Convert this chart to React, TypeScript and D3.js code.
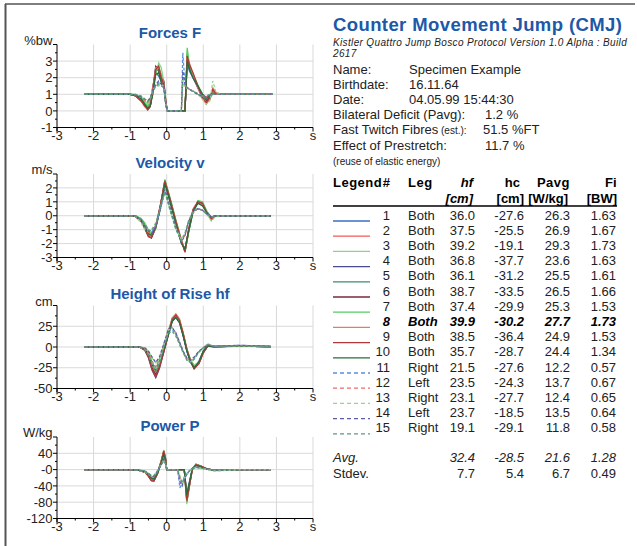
import * as d3 from "d3";

// ---- trial table ----
const trialNumbers = [1, 2, 3, 4, 5, 6, 7, 8, 9, 10, 11, 12, 13, 14, 15];
const trialLegs = ["Both", "Both", "Both", "Both", "Both", "Both", "Both", "Both", "Both", "Both", "Right", "Left", "Right", "Left", "Right"];
const trialHf = [36.0, 37.5, 39.2, 36.8, 36.1, 38.7, 37.4, 39.9, 38.5, 35.7, 21.5, 23.5, 23.1, 23.7, 19.1];
const trialHc = [-27.6, -25.5, -19.1, -37.7, -31.2, -33.5, -29.9, -30.2, -36.4, -28.7, -27.6, -24.3, -27.7, -18.5, -29.1];
const trialPavg = [26.3, 26.9, 29.3, 23.6, 25.5, 26.5, 25.3, 27.7, 24.9, 24.4, 12.2, 13.7, 12.4, 13.5, 11.8];
const trialFi = [1.63, 1.67, 1.73, 1.63, 1.61, 1.66, 1.53, 1.73, 1.53, 1.34, 0.57, 0.67, 0.65, 0.64, 0.58];
const avgRow = ["32.4", "-28.5", "21.6", "1.28"];
const stdevRow = ["7.7", "5.4", "6.7", "0.49"];

const trialColors = [
  "#3b6cc8", "#f05858", "#86d886", "#4b4b90", "#3d8c6c",
  "#7a2a3a", "#55cc60", "#d88070", "#b03838", "#2a6a3c",
  "#5a8ee0", "#f06a6a", "#90d890", "#5c5ca4", "#5a9c7c",
];

// ---- header info ----
const infoLabels = ["Name:", "Birthdate:", "Date:", "Bilateral Deficit (Pavg):", "Fast Twitch Fibres", "Effect of Prestretch:"];
const infoValues = ["Specimen Example", "16.11.64", "04.05.99 15:44:30", "1.2 %", "51.5 %FT", "11.7 %"];

// ---- Forces F (%bw) ----
const forceTimes = [-2.25, -1.6, -1.0, -0.85, -0.7, -0.6, -0.52, -0.45, -0.38, -0.3, -0.22, -0.15, -0.08, -0.02, 0.02, 0.4, 0.44, 0.5, 0.56, 0.62, 0.72, 0.85, 0.98, 1.08, 1.18, 1.26, 1.35, 1.5, 2.2, 2.9];
const forceValues = [
  [1, 1, 1, 0.95, 0.7, 0.4, 0.2, 0.5, 1.5, 2.3, 2.1, 1.8, 1.6, 0.3, 0, 0, 0, 0, 3.0, 2.4, 2.0, 1.5, 1.0, 0.8, 0.9, 1.1, 1.0, 1, 1, 1],
  [1, 1.02, 1, 0.9, 0.6, 0.3, 0.15, 0.4, 1.3, 2.5, 2.6, 2.0, 1.7, 0.4, 0, 0, 0, 0, 2.8, 2.6, 2.1, 1.4, 0.7, 0.5, 0.8, 1.3, 1.05, 1, 1, 1],
  [1, 1, 1.02, 1.0, 0.85, 0.6, 0.4, 0.7, 1.4, 2.2, 2.9, 2.6, 1.8, 0.5, 0, 0, 0, 0, 3.6, 2.7, 2.2, 1.6, 1.0, 0.6, 0.7, 1.1, 1.0, 1, 1, 1],
  [1, 1, 1, 0.95, 0.7, 0.35, 0.1, 0.3, 1.2, 2.6, 2.4, 1.9, 1.7, 0.4, 0, 0, 0, 0, 3.3, 2.6, 2.0, 1.4, 0.9, 0.7, 0.9, 1.0, 1, 1, 1, 1],
  [1, 1, 1, 0.95, 0.75, 0.45, 0.2, 0.35, 1.1, 2.4, 2.5, 1.8, 1.5, 0.3, 0, 0, 0, 0, 3.1, 2.5, 2.0, 1.5, 0.9, 0.7, 0.8, 1.1, 1.0, 1, 1, 1],
  [1, 1, 1, 0.9, 0.65, 0.3, 0.05, 0.25, 1.3, 2.7, 2.5, 2.0, 1.8, 0.5, 0, 0, 0, 0, 3.4, 2.7, 2.1, 1.5, 0.9, 0.6, 0.8, 1.2, 1.0, 1, 1, 1],
  [1, 1, 1, 0.95, 0.8, 0.5, 0.3, 0.5, 1.2, 2.3, 2.7, 2.2, 1.6, 0.4, 0, 0, 0, 0, 3.8, 2.8, 2.1, 1.5, 0.9, 0.5, 0.7, 1.2, 1.0, 1, 1, 1],
  [1, 1, 1, 0.9, 0.6, 0.25, 0.1, 0.4, 1.4, 2.6, 2.6, 2.1, 1.7, 0.5, 0, 0, 0, 0, 3.2, 2.9, 2.2, 1.4, 0.8, 0.4, 0.7, 1.4, 1.1, 1, 1, 1],
  [1, 1, 1, 0.9, 0.6, 0.3, 0.1, 0.3, 1.2, 2.5, 2.7, 2.0, 1.6, 0.4, 0, 0, 0, 0, 3.3, 2.8, 2.3, 1.5, 0.8, 0.5, 0.8, 1.3, 1.0, 1, 1, 1],
  [1, 1, 1, 0.95, 0.75, 0.4, 0.15, 0.3, 1.0, 2.2, 2.3, 1.7, 1.4, 0.3, 0, 0, 0, 0, 3.0, 2.5, 2.0, 1.5, 1.0, 0.8, 0.9, 1.0, 1, 1, 1, 1],
  [1, 1, 1, 0.95, 0.85, 0.7, 0.6, 0.75, 1.2, 1.6, 1.7, 1.6, 1.5, 0.4, 0, 0, 3.5, 1.6, 1.4, 1.3, 1.2, 1.05, 0.9, 0.85, 0.95, 1.0, 1, 1, 1, 1],
  [1, 1, 1, 0.95, 0.8, 0.6, 0.5, 0.7, 1.1, 1.5, 1.6, 1.6, 1.5, 0.4, 0, 0, 1.8, 1.5, 1.4, 1.3, 1.2, 1.0, 0.85, 0.85, 0.95, 1.0, 1, 1, 1, 1],
  [1, 1, 1, 1.0, 0.9, 0.75, 0.55, 0.8, 1.3, 1.5, 1.5, 1.6, 1.4, 0.3, 0, 0, 2.0, 1.5, 1.35, 1.3, 1.2, 1.0, 0.7, 0.4, 0.6, 1.8, 1.1, 1, 1, 1],
  [1, 1, 1, 0.95, 0.85, 0.7, 0.6, 0.8, 1.2, 1.6, 1.8, 1.6, 1.5, 0.4, 0, 0, 2.4, 1.6, 1.4, 1.3, 1.15, 1.0, 0.85, 0.85, 0.95, 1.0, 1, 1, 1, 1],
  [1, 1, 1, 1.0, 0.9, 0.7, 0.55, 0.7, 1.2, 1.5, 1.6, 1.5, 1.4, 0.3, 0, 0, 1.6, 1.5, 1.4, 1.3, 1.2, 1.0, 0.9, 0.9, 1.0, 1.0, 1, 1, 1, 1],
];

// ---- Velocity v (m/s) ----
const velocityTimes = [-2.25, -1.0, -0.85, -0.7, -0.6, -0.5, -0.42, -0.3, -0.18, -0.05, 0.1, 0.25, 0.4, 0.5, 0.6, 0.72, 0.85, 0.98, 1.1, 1.22, 1.32, 1.5, 2.85];
const velocityValues = [
  [0, 0, -0.02, -0.3, -0.7, -1.2, -1.4, -0.8, 0.6, 2.4, 1.0, -0.5, -1.9, -2.4, -1.1, 0.3, 0.9, 0.8, 0.3, -0.1, 0, 0, 0],
  [0, 0, -0.05, -0.4, -0.8, -1.3, -1.5, -0.7, 0.7, 2.5, 1.1, -0.4, -1.8, -2.5, -1.0, 0.4, 1.0, 0.9, 0.2, -0.3, -0.05, 0, 0],
  [0, 0, 0, -0.2, -0.5, -1.0, -1.3, -0.9, 0.4, 2.6, 1.2, -0.3, -1.7, -2.6, -1.2, 0.3, 1.0, 0.9, 0.3, -0.2, 0, 0, 0],
  [0, 0, -0.05, -0.4, -0.9, -1.5, -1.6, -0.8, 0.5, 2.4, 1.0, -0.5, -1.9, -2.4, -1.0, 0.4, 0.9, 0.8, 0.2, -0.1, 0, 0, 0],
  [0, 0, -0.02, -0.3, -0.8, -1.4, -1.5, -0.8, 0.6, 2.4, 1.0, -0.5, -1.9, -2.4, -1.1, 0.4, 1.0, 0.8, 0.2, -0.2, 0, 0, 0],
  [0, 0, -0.05, -0.4, -0.9, -1.4, -1.6, -0.9, 0.6, 2.5, 1.1, -0.4, -1.8, -2.6, -1.1, 0.4, 1.0, 0.9, 0.2, -0.2, 0, 0, 0],
  [0, 0, 0, -0.2, -0.6, -1.1, -1.4, -0.9, 0.5, 2.6, 1.2, -0.3, -1.7, -2.6, -1.2, 0.3, 1.1, 1.0, 0.3, -0.2, 0, 0, 0],
  [0, 0, -0.05, -0.4, -0.9, -1.4, -1.5, -0.8, 0.7, 2.5, 1.1, -0.4, -1.8, -2.5, -1.0, 0.5, 1.0, 0.8, 0.2, -0.3, -0.05, 0, 0],
  [0, 0, -0.05, -0.4, -0.9, -1.5, -1.6, -0.8, 0.6, 2.5, 1.1, -0.4, -1.8, -2.6, -1.0, 0.4, 1.0, 0.9, 0.2, -0.2, 0, 0, 0],
  [0, 0, -0.02, -0.3, -0.8, -1.3, -1.4, -0.8, 0.5, 2.3, 0.9, -0.6, -2.0, -2.4, -1.1, 0.3, 0.9, 0.7, 0.2, -0.1, 0, 0, 0],
  [0, 0, -0.02, -0.3, -0.7, -1.1, -1.2, -0.7, 0.4, 1.8, 0.4, -0.9, -1.8, -1.3, -0.4, 0.3, 0.5, 0.4, 0.1, -0.1, 0, 0, 0],
  [0, 0, -0.05, -0.4, -0.8, -1.2, -1.3, -0.7, 0.4, 1.9, 0.5, -0.8, -1.8, -1.4, -0.5, 0.2, 0.5, 0.4, 0.1, -0.1, 0, 0, 0],
  [0, 0, -0.05, -0.5, -1.0, -1.1, -1.0, -0.5, 0.5, 1.8, 0.4, -0.9, -1.7, -1.2, -0.3, 0.3, 0.5, 0.4, 0.1, -0.4, -0.1, 0, 0],
  [0, 0, -0.02, -0.3, -0.7, -1.1, -1.3, -0.8, 0.4, 1.9, 0.5, -0.8, -1.9, -1.4, -0.4, 0.3, 0.5, 0.4, 0.1, -0.1, 0, 0, 0],
  [0, 0, -0.02, -0.3, -0.6, -1.0, -1.1, -0.6, 0.5, 1.7, 0.3, -1.0, -1.8, -1.3, -0.4, 0.3, 0.5, 0.4, 0.1, -0.1, 0, 0, 0],
];

// ---- Height of Rise hf (cm) ----
const heightTimes = [-2.25, -1.2, -0.75, -0.6, -0.5, -0.4, -0.3, -0.2, -0.08, 0.05, 0.15, 0.25, 0.35, 0.45, 0.55, 0.65, 0.75, 0.88, 1.0, 1.12, 1.3, 2.0, 2.85];
const heightValues = [
  [0, 0.5, 0, -2, -8, -19, -27, -19, -3, 17, 32, 36, 30, 14, -4, -17, -24, -17, -5, 1.5, 0.5, 1, 0.5],
  [0, 0.5, 0, -3, -9, -20, -25, -17, -2, 18, 33, 37, 31, 15, -3, -16, -23, -18, -6, 1, 0, 1, 0.5],
  [0, 0.5, 0, -1, -5, -13, -19, -14, 0, 20, 35, 39, 33, 17, -2, -15, -22, -18, -6, 1, 0.5, 1, 0.5],
  [0, 0, 0, -4, -13, -28, -37, -26, -6, 15, 31, 37, 31, 14, -5, -18, -26, -19, -6, 1, 0.5, 1, 0.5],
  [0, 0.5, 0, -3, -10, -23, -31, -21, -4, 16, 31, 36, 30, 14, -4, -17, -25, -19, -5, 1.5, 0.5, 1, 0.5],
  [0, 0.5, 0, -3, -11, -25, -33, -23, -5, 17, 34, 38.5, 32, 16, -3, -17, -26, -20, -7, 1, 0.5, 1, 0.5],
  [0, 0.5, 0, -2, -9, -22, -30, -20, -3, 18, 33, 37, 31, 15, -3, -16, -24, -19, -6, 1, 0.5, 1, 0.5],
  [0, 0.5, 0, -3, -10, -22, -30, -20, -3, 19, 35, 40, 34, 17, -2, -16, -25, -20, -7, 1, 0.5, 1, 0.5],
  [0, 0, 0, -4, -12, -27, -36, -25, -6, 16, 33, 38.5, 32, 16, -3, -17, -26, -20, -7, 1, 0.5, 1, 0.5],
  [0, 0.5, 0, -2, -9, -21, -28.5, -19, -3, 16, 31, 35.5, 29, 13, -5, -18, -25, -18, -5, 1.5, 0.5, 1, 0.5],
  [0, 0, 0, -2, -8, -19, -27, -17, 2, 20, 21.5, 15, 5, -6, -15, -18, -14, -6, -1, 3, 1, 2, 1],
  [0, 0, 0, -2, -7, -17, -24, -15, 3, 22, 23.5, 17, 6, -5, -14, -17, -13, -5, -1, 3, 1, 1.5, 1],
  [0, 0, 0, -3, -9, -20, -27.5, -18, 2, 21, 23, 16, 5, -6, -15, -18, -14, -6, -1, 4, 1, 1.5, 0.5],
  [0, 0, 0, -1, -5, -12, -18.5, -12, 4, 22, 23.5, 17, 6, -5, -13, -16, -12, -5, -1, 2.5, 1, 2, 1],
  [0, 0, 0, -3, -9, -21, -29, -19, 0, 17, 19, 13, 3, -7, -16, -19, -15, -6, -1, 3, 1, 1.5, 0.5],
];

// ---- Power P (W/kg) ----
const powerTimes = [-2.25, -1.0, -0.8, -0.6, -0.5, -0.42, -0.35, -0.25, -0.15, -0.08, -0.03, 0.0, 0.3, 0.36, 0.42, 0.48, 0.55, 0.62, 0.7, 0.8, 0.95, 1.1, 1.3, 2.0, 2.85];
const powerValues = [
  [0, 0, -1, -4, -12, -20, -22, -6, 18, 40, 22, 0, 0, 0, 0, 0, -60, -30, 2, 11, 7, 2, -1, 0, 0],
  [0, 0, -1, -6, -15, -24, -25, -8, 20, 43, 25, 0, 0, 0, 0, 0, -70, -38, 0, 12, 8, 1, -2, 0, 0],
  [0, 0, 0, -3, -9, -16, -20, -5, 22, 48, 28, 0, 0, 0, 0, 0, -85, -40, 3, 13, 8, 2, -3, 0, 0],
  [0, 0, -1, -6, -16, -27, -28, -10, 17, 41, 24, 0, 0, 0, 0, 0, -72, -36, 1, 12, 7, 1, -1, 0, 0],
  [0, 0, -1, -5, -13, -22, -24, -8, 18, 40, 22, 0, 0, 0, 0, 0, -65, -33, 2, 11, 7, 2, -1, 0, 0],
  [0, 0, -1, -6, -15, -25, -27, -9, 20, 45, 26, 0, 0, 0, 0, 0, -78, -40, 0, 13, 8, 2, -1, 0, 0],
  [0, 0, 0, -4, -11, -19, -23, -7, 21, 46, 27, 0, 0, 0, 0, 0, -80, -38, 2, 13, 8, 1, -2, 0, 0],
  [0, 0, -1, -6, -15, -25, -26, -8, 22, 47, 27, 0, 0, 0, 0, 0, -75, -42, 0, 12, 8, 2, -2, 0, 0],
  [0, 0, -1, -6, -16, -27, -28, -9, 20, 45, 26, 0, 0, 0, 0, 0, -76, -40, 1, 12, 8, 2, -1, 0, 0],
  [0, 0, -1, -5, -13, -21, -23, -8, 16, 38, 20, 0, 0, 0, 0, 0, -62, -32, 2, 10, 6, 1, -1, 0, 0],
  [0, 0, -1, -4, -10, -16, -17, -4, 12, 24, 14, 0, 0, -45, -30, -18, -10, -3, 3, 6, 4, 1, -1, 0, 0],
  [0, 0, -1, -5, -11, -17, -18, -5, 12, 25, 15, 0, 0, -20, -38, -22, -12, -4, 2, 6, 4, 1, -1, 0, 0],
  [0, 0, -1, -6, -12, -15, -14, -2, 13, 24, 14, 0, 0, -15, -35, -22, -12, -4, 2, 5, 3, 0, -4, 0, 0],
  [0, 0, -1, -4, -10, -16, -17, -4, 13, 26, 15, 0, 0, -30, -40, -24, -12, -3, 3, 6, 4, 1, -1, 0, 0],
  [0, 0, -1, -4, -9, -14, -15, -3, 11, 22, 13, 0, 0, -18, -32, -20, -10, -3, 2, 5, 3, 1, -1, 0, 0],
];

const timeTicks = [-3, -2, -1, 0, 1, 2, 3, 4];
const timeTickLabels = ["-3", "-2", "-1", "0", "1", "2", "3", "s"];

const FONT = "Arial, 'Liberation Sans', sans-serif";
const BLUE = "#2058a8";

const x = d3.scaleLinear().domain([-3, 4]).range([57, 313]);

type PanelCfg = {
  title: string;
  unit: string;
  top: number;
  bottom: number;
  domain: [number, number];
  ticks: number[];
  tickLabels: string[];
  step: number;
  times: number[];
  values: number[][];
};

const panels: PanelCfg[] = [
  { title: "Forces F", unit: "%bw", top: 44.5, bottom: 127.5, domain: [-1, 4], ticks: [-1, 0, 1, 2, 3], tickLabels: ["-1", "0", "1", "2", "3"], step: 1, times: forceTimes, values: forceValues },
  { title: "Velocity v", unit: "m/s", top: 174, bottom: 257.5, domain: [-3, 3], ticks: [-3, -2, -1, 0, 1, 2], tickLabels: ["-3", "-2", "-1", "0", "1", "2"], step: 1, times: velocityTimes, values: velocityValues },
  { title: "Height of Rise hf", unit: "cm", top: 305.5, bottom: 388.5, domain: [-50, 50], ticks: [-50, -25, 0, 25], tickLabels: ["-50", "-25", "0", "25"], step: 25, times: heightTimes, values: heightValues },
  { title: "Power P", unit: "W/kg", top: 437, bottom: 518.5, domain: [-120, 80], ticks: [-120, -80, -40, 0, 40], tickLabels: ["-120", "-80", "-40", "-0", "40"], step: 40, times: powerTimes, values: powerValues },
];

function Panel({ cfg }: { cfg: PanelCfg }) {
  const y = d3.scaleLinear().domain(cfg.domain).range([cfg.bottom, cfg.top]);
  const line = d3
    .line<number>()
    .x((_, i) => x(cfg.times[i]))
    .y((d) => y(d));
  const minorY = d3.range(cfg.domain[0] + cfg.step / 2, cfg.domain[1], cfg.step);
  const minorX = d3.range(-2.5, 4, 1);
  const x0 = x(-3);
  return (
    <g>
      <text x={170} y={cfg.top - 6.5} textAnchor="middle" fontFamily={FONT} fontSize={15} fontWeight="bold" fill={BLUE}>
        {cfg.title}
      </text>
      {timeTicks.slice(1).map((t) => (
        <line key={"gx" + t} x1={x(t)} x2={x(t)} y1={cfg.top} y2={cfg.bottom} stroke="#d9d9d9" />
      ))}
      {cfg.ticks.slice(1).map((v) => (
        <line key={"gy" + v} x1={x0} x2={x(4)} y1={y(v)} y2={y(v)} stroke="#d9d9d9" />
      ))}
      {cfg.values.map((vals, i) => (
        <path
          key={"s" + i}
          d={line(vals) ?? ""}
          fill="none"
          stroke={trialColors[i]}
          strokeWidth={1.25}
          strokeDasharray={trialLegs[i] === "Both" ? undefined : "3,2"}
        />
      ))}
      <line x1={x0} x2={x0} y1={cfg.top} y2={cfg.bottom + 4} stroke="#000" />
      <line x1={x0 - 4} x2={x(4)} y1={cfg.bottom} y2={cfg.bottom} stroke="#000" />
      {[...cfg.ticks, cfg.domain[1]].map((v) => (
        <line key={"ty" + v} x1={x0 - 4} x2={x0} y1={y(v)} y2={y(v)} stroke="#000" />
      ))}
      {minorY.map((v) => (
        <line key={"my" + v} x1={x0 - 2} x2={x0} y1={y(v)} y2={y(v)} stroke="#000" />
      ))}
      {timeTicks.map((t) => (
        <line key={"tx" + t} x1={x(t)} x2={x(t)} y1={cfg.bottom} y2={cfg.bottom + 4} stroke="#000" />
      ))}
      {minorX.map((t) => (
        <line key={"mx" + t} x1={x(t)} x2={x(t)} y1={cfg.bottom} y2={cfg.bottom + 2} stroke="#000" />
      ))}
      {cfg.ticks.map((v, i) => (
        <text key={"ly" + v} x={x0 - 4.5} y={y(v)} dy="0.36em" textAnchor="end" fontFamily={FONT} fontSize={13} fill="#222">
          {cfg.tickLabels[i]}
        </text>
      ))}
      <text x={x0 - 4.5} y={cfg.top} textAnchor="end" fontFamily={FONT} fontSize={13} fill="#222">
        {cfg.unit}
      </text>
      {timeTicks.map((t, i) => (
        <text key={"lx" + t} x={x(t)} y={cfg.bottom + 12.5} textAnchor="middle" fontFamily={FONT} fontSize={13} fill="#222">
          {timeTickLabels[i]}
        </text>
      ))}
    </g>
  );
}

function Info() {
  const valueX = [409, 409, 409, 485, 483, 485];
  return (
    <g fontFamily={FONT} fill="#222">
      <text x={333} y={31} fontSize={18.5} fontWeight="bold" fill={BLUE} letterSpacing={0.4}>
        Counter Movement Jump (CMJ)
      </text>
      <text x={333} y={46} fontSize={10} fontStyle="italic" letterSpacing={0.35}>
        Kistler Quattro Jump Bosco Protocol Version 1.0 Alpha : Build
      </text>
      <text x={333} y={56.5} fontSize={10} fontStyle="italic" letterSpacing={0.35}>
        2617
      </text>
      {infoLabels.map((lab, i) => (
        <g key={lab}>
          <text x={333} y={74 + i * 15.1} fontSize={13}>
            {lab}
            {i === 4 ? <tspan fontSize={10}> (est.):</tspan> : null}
          </text>
          <text x={valueX[i]} y={74 + i * 15.1} fontSize={13}>
            {infoValues[i]}
          </text>
        </g>
      ))}
      <text x={333} y={165} fontSize={10}>
        (reuse of elastic energy)
      </text>
    </g>
  );
}

function Table() {
  const best = d3.maxIndex(trialHf);
  const rowY = (i: number) => 219.5 + i * 15.2;
  const numCols = [475, 524, 570, 616];
  return (
    <g fontFamily={FONT} fontSize={13} fill="#222">
      <g fontWeight="bold" fill="#000">
        <text x={333} y={187} letterSpacing={0.5}>Legend</text>
        <text x={390} y={187} textAnchor="end">#</text>
        <text x={408} y={187} letterSpacing={0.5}>Leg</text>
        <text x={473} y={187} textAnchor="end" fontStyle="italic">hf</text>
        <text x={520} y={187} textAnchor="end">hc</text>
        <text x={570} y={187} textAnchor="end" letterSpacing={0.5}>Pavg</text>
        <text x={616.5} y={187} textAnchor="end">Fi</text>
        <text x={473} y={202.5} textAnchor="end" fontStyle="italic">[cm]</text>
        <text x={524} y={202.5} textAnchor="end">[cm]</text>
        <text x={568} y={202.5} textAnchor="end">[W/kg]</text>
        <text x={617} y={202.5} textAnchor="end">[BW]</text>
      </g>
      <line x1={333} x2={617} y1={206} y2={206} stroke="#000" strokeWidth={1.5} />
      {trialNumbers.map((n, i) => {
        const y = rowY(i);
        const hl = i === best;
        const vals = [trialHf[i].toFixed(1), trialHc[i].toFixed(1), trialPavg[i].toFixed(1), trialFi[i].toFixed(2)];
        return (
          <g key={n} fontWeight={hl ? "bold" : "normal"} fontStyle={hl ? "italic" : "normal"} fill={hl ? "#000" : "#222"}>
            <line
              x1={333}
              x2={370}
              y1={y + 1.5}
              y2={y + 1.5}
              stroke={trialColors[i]}
              strokeWidth={1.3}
              strokeDasharray={trialLegs[i] === "Both" ? undefined : "4,3"}
            />
            <text x={390} y={y} textAnchor="end">{n}</text>
            <text x={408} y={y}>{trialLegs[i]}</text>
            {vals.map((v, j) => (
              <text key={j} x={numCols[j]} y={y} textAnchor="end">{v}</text>
            ))}
          </g>
        );
      })}
      <g fontStyle="italic">
        <text x={333} y={462}>Avg.</text>
        {avgRow.map((v, j) => (
          <text key={j} x={numCols[j]} y={462} textAnchor="end">{v}</text>
        ))}
      </g>
      <text x={333} y={477.5}>Stdev.</text>
      {stdevRow.map((v, j) => (
        <text key={j} x={numCols[j]} y={477.5} textAnchor="end">{v}</text>
      ))}
    </g>
  );
}

export default function App() {
  return (
    <svg width={637} height={546} style={{ position: "absolute", left: 0, top: 0, background: "#fff" }}>
      <rect width={637} height={546} fill="#fff" />
      <line x1={5} x2={635} y1={4} y2={4} stroke="#555" strokeWidth={1.5} />
      <line x1={5.5} x2={5.5} y1={4} y2={546} stroke="#555" strokeWidth={2} />
      {panels.map((p) => (
        <Panel key={p.title} cfg={p} />
      ))}
      <Info />
      <Table />
    </svg>
  );
}
